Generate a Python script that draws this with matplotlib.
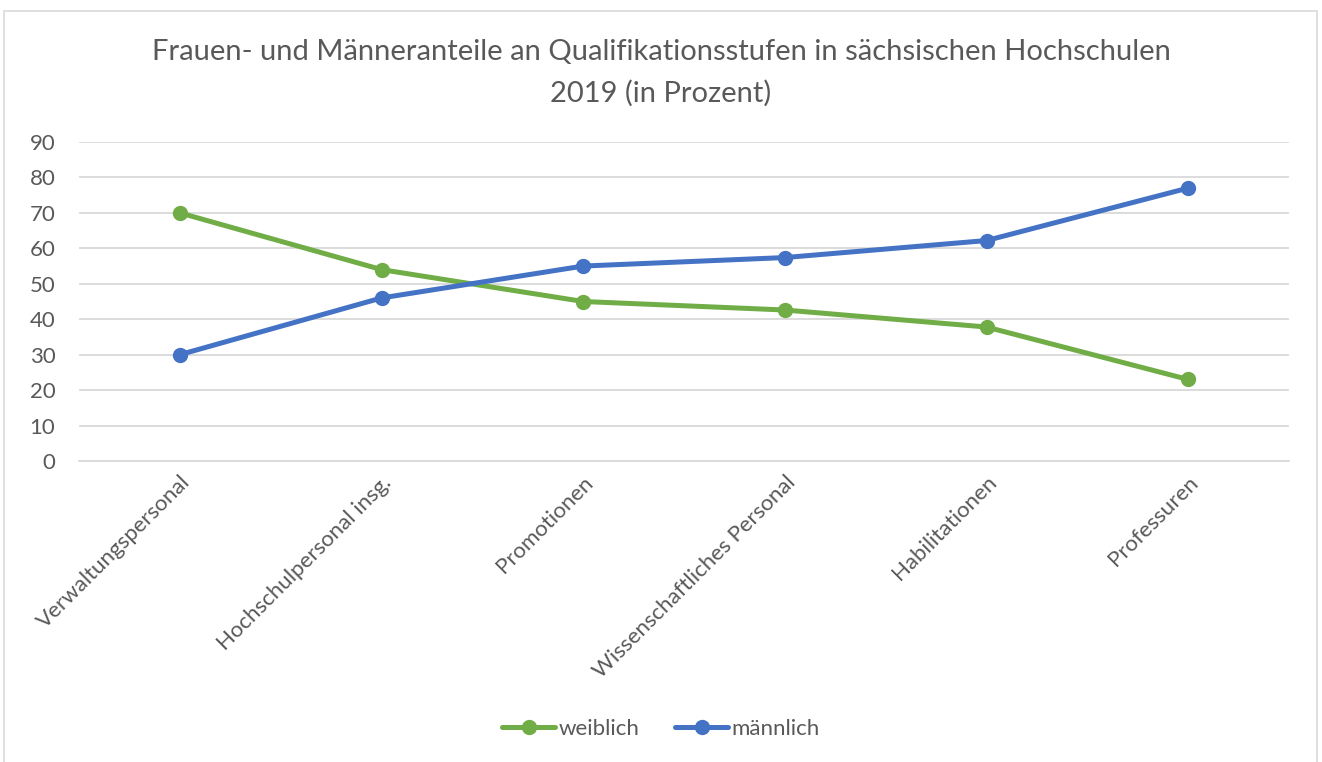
import matplotlib.pyplot as plt
from matplotlib.patches import Rectangle

plt.rcParams['font.family'] = ['Lato', 'DejaVu Sans']

categories = ["Verwaltungspersonal", "Hochschulpersonal insg.", "Promotionen",
              "Wissenschaftliches Personal", "Habilitationen", "Professuren"]
weiblich = [70.0, 54.0, 45.0, 42.6, 37.8, 23.0]
maennlich = [30.0, 46.0, 55.0, 57.4, 62.2, 77.0]

text_col = "#595959"
green = "#70ad47"
blue = "#4472c4"

fig = plt.figure(figsize=(13.22, 7.62), dpi=100)
# chart frame like the office chart border
fig.patches.append(Rectangle((4 / 1322, -0.01), 1313 / 1322, 1 - 11 / 762 + 0.01,
                             transform=fig.transFigure, fill=False,
                             edgecolor="#d9d9d9", linewidth=1.2))

ax = fig.add_axes([79 / 1322, 1 - 461 / 762, 1210 / 1322, 319 / 762])
x = range(len(categories))
ax.plot(x, weiblich, color=green, lw=3.6, marker="o", ms=10, label="weiblich",
        solid_capstyle="round")
ax.plot(x, maennlich, color=blue, lw=3.6, marker="o", ms=10, label="männlich",
        solid_capstyle="round")

ax.set_xlim(-0.5, len(categories) - 0.5)
ax.set_ylim(0, 90)
ax.set_yticks(range(0, 91, 10))
ax.yaxis.grid(True, color="#d9d9d9", lw=1.3)
ax.set_axisbelow(True)
for s in ["top", "right", "left"]:
    ax.spines[s].set_visible(False)
ax.spines["bottom"].set_color("#d9d9d9")
ax.spines["bottom"].set_linewidth(1.3)
ax.tick_params(axis="both", length=0, colors=text_col, labelsize=16)
ax.tick_params(axis="y", pad=17)
ax.tick_params(axis="x", pad=8)
ax.set_xticks(list(x))
ax.set_xticklabels(categories, rotation=45, ha="right", va="top",
                   rotation_mode="anchor")

fig.text(0.5, 1 - 52 / 762, "Frauen- und Männeranteile an Qualifikationsstufen in sächsischen Hochschulen",
         ha="center", va="center", fontsize=21, color=text_col)
fig.text(0.5, 1 - 93 / 762, "2019 (in Prozent)",
         ha="center", va="center", fontsize=21, color=text_col)

leg = fig.legend(loc="center", bbox_to_anchor=(0.5, 1 - 729 / 762), ncol=2,
                 frameon=False, fontsize=16, handlelength=2.4, columnspacing=1.6,
                 handletextpad=0.15)
for t in leg.get_texts():
    t.set_color(text_col)

fig.savefig("out.png", dpi=100)
